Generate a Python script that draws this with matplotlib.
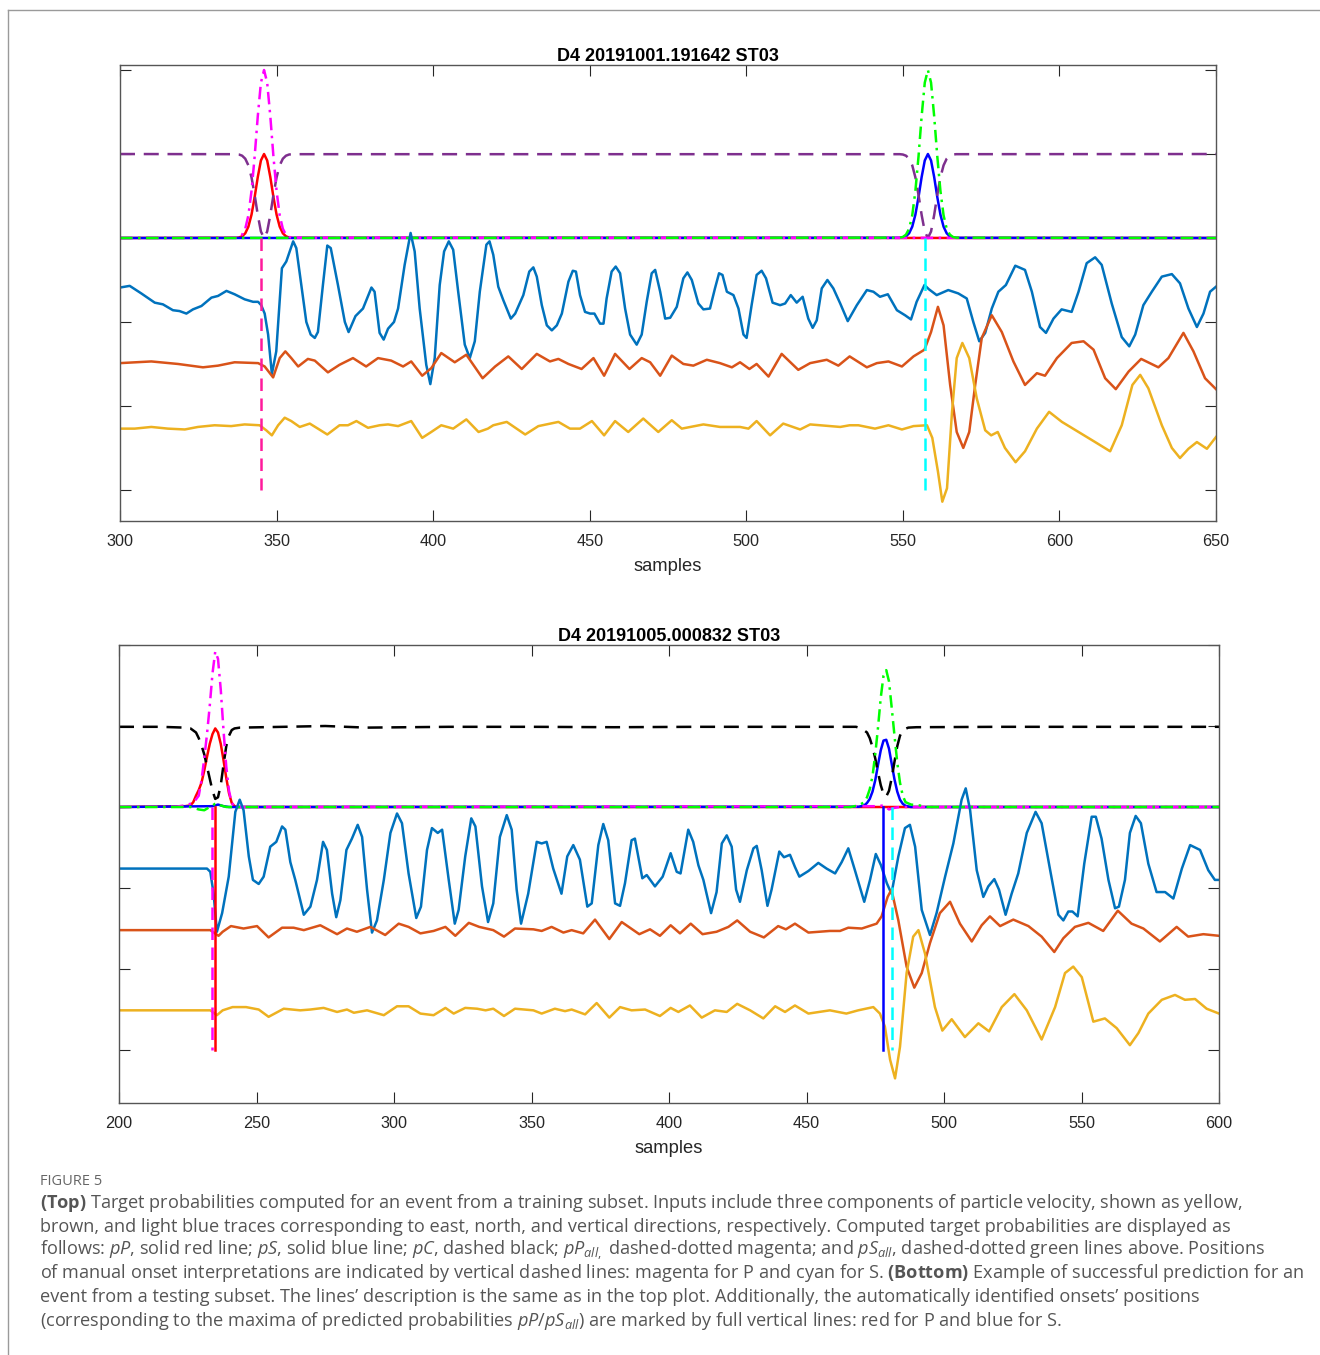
import matplotlib
matplotlib.use("Agg")
import matplotlib.pyplot as plt
from matplotlib.lines import Line2D

plt.rcParams['mathtext.fontset'] = 'custom'
plt.rcParams['mathtext.rm'] = 'Open Sans'
plt.rcParams['mathtext.it'] = 'Open Sans:italic'
plt.rcParams['mathtext.bf'] = 'Open Sans:bold'

# ---------------- top event (training) ----------------
top_title = "D4 20191001.191642 ST03"
top_xticks = [300, 350, 400, 450, 500, 550, 600, 650]

# vertical component (light blue)
top_z_x = [300, 303.1, 306.8, 311.1, 313.7, 316.9, 319, 321.2, 323.3, 326,
           329.2, 331.3, 334, 336.6, 339.8, 342.5, 344.1, 345.1, 346.2, 347.3,
           348.5, 349.9, 351.3, 351.7, 353.1, 355.3, 356.3, 357.9, 359.5, 360.9,
           362.2, 363.2, 364.8, 366.2, 367.3, 369.6, 371.8, 373, 375.2, 377.6,
           380.3, 381.3, 382.9, 384.2, 385.6, 387.5, 388.8, 390.9, 392.8, 394.1,
           395.7, 397.8, 399.1, 400.5, 402.1, 403.5, 405, 406.4, 408, 410.1,
           411.7, 413.3, 414.9, 417, 418, 419.2, 420.8, 422.4, 424.8, 426.2,
           428.8, 430.7, 432, 433.1, 434.7, 436.3, 437.9, 439.5, 441.1, 443.2,
           444.6, 445.6, 446.9, 448.5, 450.1, 451.5, 453.3, 454.4, 455.4, 457,
           458.3, 459.7, 461.3, 462.9, 465, 466.6, 468.2, 469.8, 470.9, 472.5,
           474.1, 475.7, 477.8, 479.9, 481.2, 482.6, 484.7, 486.3, 488.4, 490,
           491.3, 492.4, 493.8, 495.9, 497.5, 499.1, 500.1, 501.7, 503.3, 504.9,
           506.3, 508.4, 510.8, 512.4, 514.2, 516.1, 518, 519.8, 521.2, 522.5,
           524.1, 525.9, 527.8, 530, 532.4, 535.3, 538.5, 540.6, 542.7, 545.2,
           548.1, 550.7, 552.6, 554.4, 556.9, 558.3, 560.8, 564.5, 567.7, 570.4,
           572.5, 574.4, 576.3, 578.4, 580.5, 582.9, 585.9, 589, 591.2, 593.8,
           595.7, 598.1, 600.7, 603.9, 606.1, 608.7, 611.4, 613.5, 616.7, 619.9,
           622.3, 624.2, 626.8, 629.5, 632.7, 635.9, 638.5, 641.2, 643.9, 646,
           648.1, 650]
top_z = [-0.59, -0.57, -0.66, -0.77, -0.79, -0.86, -0.87, -0.90, -0.85, -0.81,
         -0.71, -0.69, -0.63, -0.67, -0.73, -0.76, -0.76, -0.80, -0.90, -1.15,
         -1.62, -1.35, -0.58, -0.36, -0.28, -0.04, -0.12, -0.56, -1.00, -1.15,
         -1.19, -1.12, -0.56, -0.09, -0.12, -0.56, -1.00, -1.12, -0.93, -0.84,
         -0.59, -0.64, -1.13, -1.21, -1.08, -1.00, -0.84, -0.32, 0.06, -0.16,
         -0.84, -1.51, -1.74, -1.43, -0.56, -0.16, -0.04, -0.14, -0.64, -1.27,
         -1.43, -1.23, -0.64, -0.08, -0.04, -0.20, -0.58, -0.74, -0.96, -0.90,
         -0.68, -0.40, -0.35, -0.46, -0.80, -1.04, -1.10, -1.04, -0.90, -0.52,
         -0.39, -0.40, -0.68, -0.88, -0.90, -0.90, -1.02, -1.02, -0.72, -0.40,
         -0.34, -0.42, -0.84, -1.15, -1.27, -1.15, -0.76, -0.42, -0.38, -0.64,
         -0.96, -0.95, -0.82, -0.48, -0.41, -0.50, -0.78, -0.85, -0.84, -0.60,
         -0.42, -0.44, -0.64, -0.68, -0.84, -1.15, -1.19, -0.80, -0.44, -0.39,
         -0.48, -0.77, -0.80, -0.78, -0.68, -0.77, -0.70, -0.96, -1.07, -0.98,
         -0.60, -0.50, -0.60, -0.78, -0.99, -0.80, -0.62, -0.64, -0.70, -0.67,
         -0.86, -0.92, -0.97, -0.76, -0.56, -0.61, -0.68, -0.62, -0.66, -0.72,
         -1.00, -1.23, -1.13, -0.84, -0.64, -0.56, -0.33, -0.38, -0.64, -1.06,
         -1.13, -0.96, -0.85, -0.88, -0.64, -0.30, -0.23, -0.32, -0.78, -1.18,
         -1.29, -1.15, -0.80, -0.64, -0.46, -0.43, -0.54, -0.84, -1.06, -0.90,
         -0.64, -0.58]

# north component (brown)
top_n_x = [300, 310, 318.5, 326.5, 331.3, 336.6, 344.1, 346.2, 348.9, 351,
           352.8, 354.7, 356.9, 360, 362.2, 366.4, 370.1, 374.4, 378.6, 382.4,
           386.6, 390.4, 393, 396.5, 399.4, 402.6, 406.9, 410.6, 415.8, 419.8,
           424, 428.3, 433.1, 437.3, 440, 443.2, 447.4, 451.2, 454.6, 458.1,
           462.7, 466.6, 469.3, 472.5, 476.2, 479.9, 483.1, 487.4, 491.6, 495.4,
           498, 501, 503.3, 507.1, 511.3, 516.6, 520.4, 525.7, 529.4, 533,
           538.5, 541.7, 545.4, 549.7, 553.4, 556.9, 559, 561.2, 563, 565.1,
           567.2, 569.3, 571.2, 573.1, 575.2, 578.4, 581.6, 585.3, 589, 592.8,
           595.4, 599.2, 603.9, 607.7, 610.9, 614.6, 618, 622.1, 626.1, 631.6,
           634.8, 639.6, 642.8, 646.5, 650]
top_n = [-1.49, -1.47, -1.50, -1.54, -1.52, -1.48, -1.49, -1.53, -1.66, -1.43,
         -1.35, -1.43, -1.53, -1.44, -1.46, -1.60, -1.51, -1.43, -1.53, -1.43,
         -1.46, -1.53, -1.47, -1.64, -1.55, -1.37, -1.48, -1.39, -1.67, -1.53,
         -1.41, -1.56, -1.38, -1.47, -1.44, -1.50, -1.56, -1.43, -1.64, -1.38,
         -1.56, -1.43, -1.48, -1.64, -1.40, -1.50, -1.52, -1.45, -1.49, -1.54,
         -1.48, -1.56, -1.50, -1.65, -1.38, -1.57, -1.49, -1.45, -1.52, -1.41,
         -1.54, -1.49, -1.47, -1.53, -1.41, -1.33, -1.12, -0.82, -1.04, -1.75,
         -2.31, -2.50, -2.31, -1.75, -1.19, -0.92, -1.12, -1.47, -1.75, -1.61,
         -1.64, -1.43, -1.25, -1.23, -1.33, -1.67, -1.80, -1.59, -1.44, -1.54,
         -1.43, -1.13, -1.35, -1.67, -1.80]

# east component (yellow)
top_e_x = [300, 304.7, 310, 315.3, 320.7, 324.9, 330.2, 335.5, 339.8, 344.6,
           346.7, 348.5, 350.5, 352.6, 354.7, 357.4, 360.6, 363.2, 366.2, 370.1,
           372.8, 375.5, 379.2, 382.9, 385.6, 388.8, 393, 396.5, 399.4, 402.6,
           406.4, 410.6, 414.5, 417.5, 419.2, 423.5, 429.4, 433.6, 440, 443.7,
           446.9, 450.7, 454.6, 458.1, 462.3, 467.1, 471.9, 476.2, 479.4, 486.3,
           491.6, 498, 500.7, 503.3, 507.6, 511.8, 517.2, 520.4, 526.8, 530,
           533, 535.8, 541.1, 545.4, 549.7, 553.4, 557.7, 559.4, 561.2, 562.6,
           564.1, 565.7, 567.2, 569, 571.2, 573.6, 576.3, 578.2, 580.3, 582.6,
           586, 589, 592.8, 596.7, 600.8, 606.1, 611.4, 616.2, 619.9, 623.3,
           625.8, 628.4, 632.7, 635.9, 638.5, 641.2, 643.9, 647.1, 650]
top_e = [-2.27, -2.27, -2.25, -2.27, -2.28, -2.25, -2.23, -2.24, -2.22, -2.23,
         -2.29, -2.35, -2.23, -2.14, -2.18, -2.25, -2.21, -2.27, -2.34, -2.23,
         -2.23, -2.18, -2.26, -2.23, -2.22, -2.24, -2.18, -2.38, -2.31, -2.23,
         -2.27, -2.16, -2.31, -2.27, -2.23, -2.19, -2.34, -2.24, -2.19, -2.27,
         -2.27, -2.18, -2.35, -2.18, -2.31, -2.15, -2.31, -2.17, -2.27, -2.22,
         -2.25, -2.25, -2.27, -2.18, -2.35, -2.21, -2.28, -2.22, -2.24, -2.25,
         -2.23, -2.23, -2.27, -2.23, -2.28, -2.24, -2.23, -2.38, -2.78, -3.14,
         -2.98, -2.07, -1.43, -1.25, -1.43, -1.91, -2.29, -2.35, -2.31, -2.50,
         -2.67, -2.54, -2.27, -2.07, -2.19, -2.31, -2.43, -2.54, -2.23, -1.75,
         -1.63, -1.79, -2.23, -2.50, -2.62, -2.51, -2.43, -2.51, -2.37]

# target probabilities
top_pP_x = [300, 337, 338, 339, 340, 341, 342, 343, 344, 345, 346, 347, 348,
            349, 350, 351, 352, 353, 354, 355, 650]
top_pP = [0, 0.002, 0.006, 0.02, 0.056, 0.135, 0.278, 0.487, 0.726, 0.923, 1.0,
          0.923, 0.726, 0.487, 0.278, 0.135, 0.056, 0.02, 0.006, 0.002, 0]
top_pPall = [0, 0.004, 0.012, 0.04, 0.11, 0.27, 0.56, 0.97, 1.45, 1.85, 2.0,
             1.85, 1.45, 0.97, 0.56, 0.27, 0.11, 0.04, 0.012, 0.004, 0]
top_pS_x = [300, 549, 550, 551, 552, 553, 554, 555, 556, 557, 558, 559, 560,
            561, 562, 563, 564, 565, 566, 567, 650]
top_pS = [0, 0.002, 0.006, 0.02, 0.056, 0.135, 0.278, 0.487, 0.726, 0.923, 1.0,
          0.923, 0.726, 0.487, 0.278, 0.135, 0.056, 0.02, 0.006, 0.002, 0]
top_pSall = [0, 0.004, 0.012, 0.04, 0.11, 0.27, 0.56, 0.97, 1.45, 1.85, 2.0,
             1.85, 1.45, 0.97, 0.56, 0.27, 0.11, 0.04, 0.012, 0.004, 0]
top_pC_x = [300, 337, 338, 339, 340, 341, 342, 343, 344, 345, 346, 347, 348,
            349, 350, 351, 352, 353, 354, 355,
            549, 550, 551, 552, 553, 554, 555, 556, 557, 558, 559, 560,
            561, 562, 563, 564, 565, 566, 567, 650]
top_pC = [1, 0.998, 0.994, 0.98, 0.944, 0.865, 0.722, 0.513, 0.274, 0.077, 0.0,
          0.077, 0.274, 0.513, 0.722, 0.865, 0.944, 0.98, 0.994, 0.998,
          0.998, 0.994, 0.98, 0.944, 0.865, 0.722, 0.513, 0.274, 0.077, 0.0,
          0.077, 0.274, 0.513, 0.722, 0.865, 0.944, 0.98, 0.994, 0.998, 1]
top_manual = [345.1, 557.1]     # P, S

# ---------------- bottom event (testing) ----------------
bot_title = "D4 20191005.000832 ST03"
bot_xticks = [200, 250, 300, 350, 400, 450, 500, 550, 600]

bot_z_x = [200, 232, 233.2, 234.4, 235.6, 237.5, 239.9, 242.3, 243.9, 245.3,
           247.2, 248.7, 250.8, 252.6, 255, 257.2, 259.3, 260.5, 262.3, 264.1,
           267.2, 269.6, 272, 274.2, 275.6, 277.5, 279, 280.5, 282.7, 284.7,
           286.8, 288.4, 290.2, 292, 293.8, 296.3, 298.7, 301.1, 302.9, 305.3,
           308.1, 309.8, 312, 313.8, 315.9, 317.5, 319.9, 322.1, 323.5, 325.9,
           328.1, 329.6, 332, 334.2, 336.1, 338.5, 341, 342.8, 344.6, 346.2,
           348.8, 351.9, 353.7, 355.5, 357.9, 360.9, 363, 365.2, 367.6, 370.3,
           371.9, 374.3, 376.1, 377.9, 380.4, 382.2, 384, 386.4, 387.6, 390.3,
           391.9, 394.9, 397.7, 400.6, 402.8, 404.2, 407, 408.8, 410.7, 412.5,
           415.3, 417.3, 419.2, 421, 422.8, 424.4, 425.8, 428.3, 430.7, 431.9,
           433.7, 435.8, 437.3, 440.1, 441.8, 444, 445.8, 447.4, 450.7, 454.3,
           457.3, 460.4, 462.8, 465.2, 467.6, 471, 473.1, 475.2, 477.1, 479.2,
           480.9, 483.4, 485.8, 487.6, 489.5, 491.9, 494.9, 497.3, 500.4, 503.4,
           506.4, 507.9, 509.5, 511.9, 514.3, 516.1, 518.3, 520, 522.4, 524.6,
           527, 530.1, 533.3, 535.5, 538.5, 541.6, 543.4, 545.2, 546.7, 548.6,
           551, 553.7, 555.2, 557.3, 559.8, 562.2, 563.6, 565.8, 567.6, 569.7,
           571.6, 574.3, 577.3, 580.4, 583.4, 586.5, 589.5, 593.1, 596.1, 598.5,
           600]
bot_z = [-0.76, -0.76, -0.80, -1.07, -1.54, -1.31, -0.86, -0.06, 0.09, -0.04,
         -0.61, -0.90, -0.95, -0.86, -0.49, -0.43, -0.24, -0.28, -0.68, -0.90,
         -1.33, -1.23, -0.90, -0.43, -0.53, -1.07, -1.36, -1.15, -0.53, -0.39,
         -0.22, -0.37, -1.02, -1.55, -1.40, -0.90, -0.32, -0.08, -0.20, -0.82,
         -1.37, -1.23, -0.53, -0.26, -0.32, -0.28, -0.90, -1.44, -1.27, -0.61,
         -0.14, -0.24, -0.98, -1.42, -1.19, -0.37, -0.10, -0.28, -1.02, -1.44,
         -1.07, -0.43, -0.45, -0.43, -0.76, -1.07, -0.61, -0.47, -0.65, -1.23,
         -1.19, -0.47, -0.21, -0.41, -1.19, -1.22, -0.94, -0.41, -0.39, -0.88,
         -0.84, -0.98, -0.86, -0.57, -0.80, -0.82, -0.28, -0.43, -0.72, -0.90,
         -1.31, -1.05, -0.45, -0.35, -0.49, -1.02, -1.17, -0.78, -0.51, -0.48,
         -0.78, -1.22, -1.02, -0.55, -0.62, -0.59, -0.74, -0.86, -0.79, -0.69,
         -0.76, -0.82, -0.68, -0.51, -0.78, -1.17, -0.90, -0.58, -0.72, -0.94,
         -1.07, -0.61, -0.26, -0.22, -0.49, -1.27, -1.58, -1.31, -0.86, -0.45,
         0.09, 0.23, -0.04, -0.78, -1.11, -0.98, -0.89, -1.02, -1.33, -1.07,
         -0.82, -0.32, -0.06, -0.20, -0.76, -1.33, -1.40, -1.29, -1.29, -1.35,
         -0.70, -0.12, -0.12, -0.39, -0.90, -1.25, -1.23, -0.90, -0.32, -0.11,
         -0.20, -0.70, -1.05, -1.05, -1.13, -0.76, -0.47, -0.53, -0.78, -0.90,
         -0.90]

bot_n_x = [200, 233.2, 236.2, 237.7, 240.7, 245.3, 250.2, 254.4, 259.3, 263.5,
           267.2, 273.2, 279.3, 282.9, 286.5, 291.4, 296.8, 301.7, 305.3, 309.6,
           314.4, 318.7, 322.3, 327.2, 331, 336.1, 340, 344, 350.7, 353.7,
           357.3, 361.6, 364.6, 368.8, 373.1, 378.3, 382.8, 389.2, 393.1, 396.7,
           400.6, 404, 407.9, 412.2, 417.3, 421.6, 424.8, 429.5, 434.5, 439.7,
           442.5, 445.8, 450.7, 458.5, 462.2, 465.2, 470.1, 475.5, 477.3, 479.5,
           480.9, 483.4, 486.4, 489.2, 491.9, 494.9, 498.5, 502.2, 505.8, 510.1,
           513.7, 516.7, 520.4, 525.2, 530.7, 535.5, 540.1, 543.4, 547.6, 552.5,
           557.9, 563.2, 568.2, 572.5, 578.5, 584.6, 588.8, 594.3, 600]
bot_n = [-1.52, -1.52, -1.59, -1.54, -1.47, -1.50, -1.47, -1.61, -1.49, -1.49,
         -1.52, -1.46, -1.57, -1.50, -1.54, -1.48, -1.58, -1.44, -1.48, -1.56,
         -1.53, -1.48, -1.59, -1.43, -1.48, -1.52, -1.60, -1.50, -1.51, -1.53,
         -1.48, -1.55, -1.52, -1.56, -1.39, -1.63, -1.42, -1.57, -1.51, -1.59,
         -1.46, -1.56, -1.44, -1.57, -1.54, -1.48, -1.40, -1.54, -1.61, -1.47,
         -1.51, -1.44, -1.55, -1.53, -1.53, -1.49, -1.50, -1.44, -1.35, -1.11,
         -1.02, -1.40, -1.97, -2.23, -2.05, -1.68, -1.31, -1.17, -1.44, -1.66,
         -1.46, -1.35, -1.47, -1.39, -1.47, -1.60, -1.79, -1.62, -1.48, -1.43,
         -1.53, -1.28, -1.44, -1.50, -1.66, -1.48, -1.60, -1.57, -1.59]

bot_e_x = [200, 233.2, 235.6, 237.7, 241.3, 246.2, 250.8, 254.4, 259.9, 265.9,
           269.6, 274.4, 279.3, 282.9, 285.4, 290.2, 296.3, 301.1, 305.3, 309.6,
           314.4, 318.7, 321.7, 325.9, 330.2, 333.3, 336.1, 340, 344, 350.7,
           353.7, 358.5, 362.2, 364.6, 369.5, 373.7, 378.3, 382.2, 386.4, 391.3,
           396.7, 400.6, 403.4, 407.6, 411.9, 416.7, 421, 424.8, 429.5, 434.3,
           438.6, 442.2, 445.8, 450.7, 458.5, 464.5, 468.8, 474.3, 476.7, 478.5,
           480.4, 482.2, 484, 486.4, 488.8, 490.7, 493.1, 496.7, 499.4, 502.8,
           507.6, 512.5, 516.4, 521, 525.6, 530.1, 535.5, 540.4, 544, 547,
           550.1, 554.3, 558.5, 562.8, 567.6, 570.7, 574.3, 579.2, 584, 587.6,
           591.3, 595.5, 600]
bot_e = [-2.51, -2.51, -2.57, -2.51, -2.47, -2.47, -2.50, -2.59, -2.49, -2.51,
         -2.50, -2.48, -2.53, -2.50, -2.54, -2.51, -2.57, -2.46, -2.46, -2.55,
         -2.57, -2.48, -2.55, -2.48, -2.49, -2.51, -2.49, -2.58, -2.49, -2.51,
         -2.55, -2.49, -2.52, -2.50, -2.56, -2.42, -2.60, -2.47, -2.51, -2.50,
         -2.58, -2.48, -2.53, -2.45, -2.60, -2.51, -2.53, -2.43, -2.51, -2.61,
         -2.46, -2.53, -2.45, -2.55, -2.51, -2.55, -2.51, -2.47, -2.55, -2.71,
         -3.12, -3.35, -2.96, -2.05, -1.60, -1.52, -1.81, -2.47, -2.76, -2.62,
         -2.84, -2.67, -2.77, -2.47, -2.31, -2.51, -2.87, -2.47, -2.05, -1.97,
         -2.10, -2.65, -2.61, -2.73, -2.94, -2.79, -2.55, -2.38, -2.32, -2.38,
         -2.37, -2.49, -2.55]

# predicted probabilities
bot_pP_x = [200, 224, 226, 227, 228, 229, 230, 231, 232, 233, 234, 235, 236,
            237, 238, 239, 240, 241, 242, 243, 600]
bot_pP = [0, 0.01, 0.02, 0.06, 0.14, 0.21, 0.3, 0.45, 0.62, 0.78, 0.9, 0.97,
          0.92, 0.78, 0.58, 0.36, 0.17, 0.05, 0.01, 0, 0]
bot_pPall_x = [200, 221, 224, 227, 229, 230, 231, 232, 233, 234, 235, 236, 237,
               238, 239, 240, 241, 242, 243, 476, 478, 480, 482, 484, 600]
bot_pPall = [0, 0.005, 0.02, 0.05, 0.14, 0.33, 0.6, 0.9, 1.25, 1.65, 1.92, 1.83,
             1.45, 0.95, 0.5, 0.2, 0.05, 0.01, 0, 0.01, 0.02, -0.03, -0.01, 0, 0]
bot_pS_x = [200, 234, 236, 238, 240, 469, 471, 472, 473, 474, 475, 476, 477,
            478, 479, 480, 481, 482, 483, 484, 485, 486, 488, 600]
bot_pS = [0, 0.01, 0.03, 0.01, 0, 0.003, 0.02, 0.05, 0.1, 0.19, 0.33, 0.52, 0.7,
          0.82, 0.83, 0.72, 0.53, 0.34, 0.19, 0.09, 0.04, 0.015, 0, 0]
bot_pSall_x = [200, 226, 229, 231, 233, 235, 236, 237, 239, 466, 469, 471, 472,
               473, 474, 475, 476, 477, 478, 479, 480, 481, 482, 483, 484, 485,
               486, 488, 491, 494, 600]
bot_pSall = [0, 0, -0.03, -0.04, 0.0, 0.04, 0.05, 0.02, 0, 0, 0.02, 0.06, 0.12,
             0.22, 0.38, 0.65, 0.98, 1.35, 1.62, 1.69, 1.55, 1.22, 0.88, 0.55,
             0.3, 0.14, 0.06, 0.03, 0.02, 0, 0]
bot_pC_x = [200, 215, 224, 226, 228, 229, 230, 231, 232, 233, 234, 235, 236,
            237, 238, 239, 240, 241, 242, 244, 260, 275, 290, 320, 350, 380,
            410, 440, 460, 468, 470, 472, 473, 474, 475, 476, 477, 478, 479,
            480, 481, 482, 483, 484, 485, 487, 490, 520, 560, 600]
bot_pC = [0.99, 0.99, 0.98, 0.97, 0.92, 0.85, 0.76, 0.65, 0.5, 0.35, 0.2, 0.1,
          0.12, 0.27, 0.52, 0.75, 0.88, 0.95, 0.97, 0.98, 0.99, 1.0, 0.98, 0.99,
          0.99, 0.985, 0.99, 0.99, 0.99, 0.99, 0.97, 0.92, 0.85, 0.74, 0.6,
          0.43, 0.27, 0.16, 0.13, 0.2, 0.36, 0.56, 0.75, 0.88, 0.95, 0.98,
          0.985, 0.99, 0.99, 0.99]
bot_manual = [233.8, 481.1]     # P, S
bot_auto = [234.9, 477.8]       # P, S

onset_span = [0, -3]

caption_head = "FIGURE 5"
caption = [
    r"$\mathbf{(Top)}$ Target probabilities computed for an event from a training subset. Inputs include three components of particle velocity, shown as yellow,",
    "brown, and light blue traces corresponding to east, north, and vertical directions, respectively. Computed target probabilities are displayed as",
    r"follows: $\mathit{pP}$, solid red line; $\mathit{pS}$, solid blue line; $\mathit{pC}$, dashed black; $\mathit{pP}_{\mathit{all,}}$ dashed-dotted magenta; and $\mathit{pS}_{\mathit{all}}$, dashed-dotted green lines above. Positions",
    r"of manual onset interpretations are indicated by vertical dashed lines: magenta for P and cyan for S. $\mathbf{(Bottom)}$ Example of successful prediction for an",
    "event from a testing subset. The lines\u2019 description is the same as in the top plot. Additionally, the automatically identified onsets\u2019 positions",
    r"(corresponding to the maxima of predicted probabilities $\mathit{pP}/\mathit{pS}_{\mathit{all}}$) are marked by full vertical lines: red for P and blue for S.",
]

C_Z, C_N, C_E = '#0072BD', '#D95319', '#EDB120'
DASH = (0, (6, 3.5))
DASHDOT = (0, (5, 2.2, 1, 2.2))
LW = 1.8

W, H = 1320, 1355
fig = plt.figure(figsize=(W / 100, H / 100), dpi=100)


def setup(ax, xticks, ylim, title):
    ax.set_xlim(xticks[0], xticks[-1])
    ax.set_ylim(*ylim)
    ax.set_xticks(xticks)
    ax.set_yticks([-3, -2, -1, 0, 1, 2])
    ax.tick_params(direction='in', length=8, width=0.8, top=True, right=True,
                   labelleft=False, labelsize=11.7, pad=9, colors='#262626')
    for sp in ax.spines.values():
        sp.set_color('#555555')
        sp.set_linewidth(1.0)
    for lab in ax.get_xticklabels():
        lab.set_fontfamily('Liberation Sans')
    ax.set_xlabel('samples', fontsize=13.2, family='Liberation Sans',
                  color='#262626', labelpad=7)
    ax.set_title(title, fontsize=13, fontweight='bold', family='Liberation Sans',
                 pad=3)


# top panel
ax1 = fig.add_axes([120 / W, 1 - 521 / H, 1096 / W, 456 / H])
setup(ax1, top_xticks, (-3.37, 2.06), top_title)
ax1.plot(top_pP_x, top_pP, color='red', lw=LW)
ax1.plot(top_pS_x, top_pS, color='blue', lw=LW)
ax1.plot(top_pC_x, top_pC, color='#7E2F8E', lw=LW, ls=DASH)
ax1.plot(top_pP_x, top_pPall, color='magenta', lw=LW, ls=DASHDOT)
ax1.plot(top_pS_x, top_pSall, color='#00FF00', lw=LW, ls=DASHDOT)
ax1.plot(top_z_x, top_z, color=C_Z, lw=LW)
ax1.plot(top_n_x, top_n, color=C_N, lw=LW)
ax1.plot(top_e_x, top_e, color=C_E, lw=LW)
ax1.plot([top_manual[0]] * 2, onset_span, color='#FF1A9C', lw=LW, ls=(0, (5, 3)))
ax1.plot([top_manual[1]] * 2, onset_span, color='cyan', lw=LW, ls=(0, (5, 3)))

# bottom panel
ax2 = fig.add_axes([119 / W, 1 - 1103 / H, 1100 / W, 458 / H])
setup(ax2, bot_xticks, (-3.654, 2.0), bot_title)
ax2.plot(bot_pP_x, bot_pP, color='red', lw=LW)
ax2.plot(bot_pS_x, bot_pS, color='blue', lw=LW)
ax2.plot(bot_pC_x, bot_pC, color='black', lw=LW, ls=DASH)
ax2.plot(bot_pPall_x, bot_pPall, color='magenta', lw=LW, ls=DASHDOT)
ax2.plot(bot_pSall_x, bot_pSall, color='#00FF00', lw=LW, ls=DASHDOT)
ax2.plot(bot_z_x, bot_z, color=C_Z, lw=LW)
ax2.plot(bot_n_x, bot_n, color=C_N, lw=LW)
ax2.plot(bot_e_x, bot_e, color=C_E, lw=LW)
ax2.plot([bot_manual[0]] * 2, onset_span, color='magenta', lw=LW, ls=(0, (5, 3)))
ax2.plot([bot_manual[1]] * 2, onset_span, color='cyan', lw=LW, ls=(0, (5, 3)))
ax2.plot([bot_auto[0]] * 2, onset_span, color='red', lw=LW)
ax2.plot([bot_auto[1]] * 2, onset_span, color='blue', lw=LW)

# page frame
fig.add_artist(Line2D([8 / W, 1], [1 - 10 / H, 1 - 10 / H], color='#9a9a9a', lw=1))
fig.add_artist(Line2D([8 / W, 8 / W], [0, 1 - 10 / H], color='#9a9a9a', lw=1))

# caption
fig.text(40 / W, 1 - 1185 / H, caption_head, fontsize=10.5, family='Open Sans',
         color='#666666', va='baseline')
for i, line in enumerate(caption):
    yb = 1208 + i * 23.5
    fig.text(40 / W, 1 - yb / H, line, fontsize=13.1, family='Open Sans',
             color='#555555', va='baseline')

fig.savefig('out.png', dpi=100)
